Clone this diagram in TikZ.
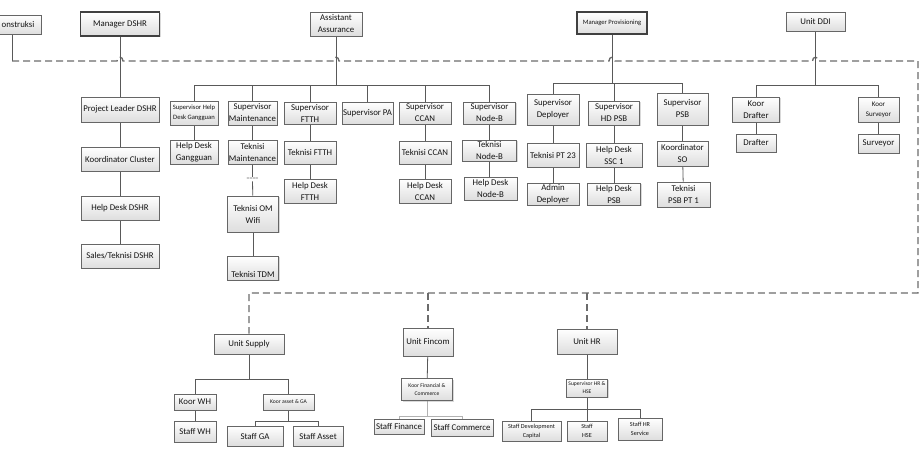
\documentclass[tikz,border=0pt]{standalone}
\usepackage{fontspec}
\setmainfont{Carlito}
\usetikzlibrary{shadows,backgrounds}
\begin{document}
\begin{tikzpicture}[x=1pt,y=-1pt,
 box/.style={draw=black!60, line width=0.7pt, top color=white, bottom color=black!13,
   inner sep=0pt, align=center, font=\fontsize{8.8}{12}\selectfont, text=black!92,
   drop shadow={shadow xshift=1pt, shadow yshift=-1pt, opacity=0.3}},
 thickbox/.style={box, line width=1.6pt, draw=black!75},
 smalltxt/.style={font=\fontsize{6.6}{9.5}\selectfont},
 tinytxt/.style={font=\fontsize{5.6}{8}\selectfont},
 hrtxt/.style={font=\fontsize{6.2}{9}\selectfont},
 conn/.style={draw=black!65, line width=0.8pt},
 faint/.style={draw=black!30, line width=0.8pt},
 dashline/.style={draw=black!58, line width=1.3pt, dash pattern=on 7pt off 4pt},
]
\useasboundingbox (0,0) rectangle (924,455);

% top row
\node[box, minimum width=46, minimum height=19] (konst) at (18,24.5) {onstruksi};
\node[thickbox, minimum width=79, minimum height=24] (mdshr) at (120,24) {Manager DSHR};
\node[box, minimum width=52, minimum height=24] (asst) at (336,24) {Assistant\\Assurance};
\node[thickbox, smalltxt, minimum width=70, minimum height=22] (mprov) at (612,23) {Manager Provisioning};
\node[box, minimum width=59, minimum height=19] (ddi) at (815.5,21.5) {Unit DDI};

% DSHR column
\node[box, minimum width=78, minimum height=25] (pl) at (120,109.5) {Project Leader DSHR};
\node[box, minimum width=78, minimum height=24] (kc) at (120,159) {Koordinator Cluster};
\node[box, minimum width=78, minimum height=24] (hd) at (120,208) {Help Desk DSHR};
\node[box, minimum width=78, minimum height=24] (sales) at (120,256) {Sales/Teknisi DSHR};

% Assurance
\node[box, smalltxt, minimum width=48, minimum height=24] (shdg) at (194,113) {Supervisor Help\\Desk Gangguan};
\node[box, minimum width=48, minimum height=24] (hdg) at (194,152) {Help Desk\\Gangguan};
\node[box, minimum width=49, minimum height=24] (smaint) at (252.5,113) {Supervisor\\Maintenance};
\node[box, minimum width=49, minimum height=24] (tmaint) at (252.5,152) {Teknisi\\Maintenance};
\node[font=\fontsize{6}{7}\selectfont, text=black!55, inner sep=1pt] (eq) at (252.5,179) {====};
\node[box, minimum width=51, minimum height=36] (tom) at (253,214) {Teknisi OM\\Wifi};
\node[box, minimum width=51, minimum height=24] (ttdm) at (253,268) {\raisebox{-6pt}[\height][0pt]{Teknisi TDM}};
\node[box, minimum width=52, minimum height=22] (sftth) at (310,113) {Supervisor\\FTTH};
\node[box, minimum width=52, minimum height=23] (tftth) at (310,152.5) {Teknisi FTTH};
\node[box, minimum width=52, minimum height=24] (hdftth) at (310,191) {Help Desk\\FTTH};
\node[box, minimum width=51, minimum height=22] (spa) at (367.5,113) {Supervisor PA};
\node[box, minimum width=52, minimum height=22] (sccan) at (425,113) {Supervisor\\CCAN};
\node[box, minimum width=52, minimum height=23] (tccan) at (425,152.5) {Teknisi CCAN};
\node[box, minimum width=52, minimum height=24] (hdccan) at (425,191) {Help Desk\\CCAN};
\node[box, minimum width=52, minimum height=22] (snodeb) at (489.5,113) {Supervisor\\Node-B};
\node[box, minimum width=54, minimum height=21] (tnodeb) at (489.5,150.5) {Teknisi\\Node-B};
\node[box, minimum width=53, minimum height=23] (hdnodeb) at (490.5,188.5) {Help Desk\\Node-B};

% Provisioning
\node[box, minimum width=52, minimum height=31] (sdep) at (553,109.5) {Supervisor\\Deployer};
\node[box, minimum width=52, minimum height=24] (tpt) at (553,155) {Teknisi PT 23};
\node[box, minimum width=52, minimum height=22] (adep) at (553,194) {Admin\\Deployer};
\node[box, minimum width=51, minimum height=24] (shdpsb) at (614,113) {Supervisor\\HD PSB};
\node[box, minimum width=56, minimum height=24] (hdssc) at (614,155) {Help Desk\\SSC 1};
\node[box, minimum width=53, minimum height=22] (hdpsb) at (614,194) {Help Desk\\PSB};
\node[box, minimum width=51, minimum height=32] (spsb) at (682.5,109) {Supervisor\\PSB};
\node[box, minimum width=51, minimum height=25] (kso) at (682.5,153.5) {Koordinator\\SO};
\node[box, minimum width=53, minimum height=25] (tpsb) at (683.5,194.5) {Teknisi\\PSB PT 1};

% DDI
\node[box, minimum width=47, minimum height=25] (kdraft) at (756,109.5) {Koor\\Drafter};
\node[box, minimum width=40, minimum height=18] (draft) at (756,143) {Drafter};
\node[box, font=\fontsize{7}{10}\selectfont, minimum width=41, minimum height=25] (ksurv) at (878.5,109.5) {Koor\\Surveyor};
\node[box, minimum width=41, minimum height=19] (surv) at (878.5,143.5) {Surveyor};

% Supply
\node[box, minimum width=70, minimum height=20] (usup) at (249,344) {Unit Supply};
\node[box, minimum width=42, minimum height=16] (koorwh) at (195,402) {Koor WH};
\node[box, tinytxt, minimum width=51, minimum height=16] (kasset) at (288.5,402) {Koor asset \& GA};
\node[box, minimum width=42, minimum height=21] (staffwh) at (195,431.5) {Staff WH};
\node[box, minimum width=56, minimum height=20] (staffga) at (255,436) {Staff GA};
\node[box, minimum width=50, minimum height=20] (staffasset) at (318,436) {Staff Asset};

% Fincom
\node[box, minimum width=50, minimum height=28] (ufin) at (428,342) {Unit Fincom};
\node[box, tinytxt, minimum width=51, minimum height=22] (kfin) at (427,389.5) {Koor Financial \&\\Commerce};
\node[box, minimum width=50, minimum height=15] (sfin) at (399,426.5) {Staff Finance};
\node[box, minimum width=62, minimum height=17] (scom) at (462,427.5) {Staff Commerce};

% HR
\node[box, minimum width=60, minimum height=25] (uhr) at (587,341.5) {Unit HR};
\node[box, tinytxt, minimum width=41, minimum height=18] (shr) at (587,388) {Supervisor HR \&\\HSE};
\node[box, hrtxt, minimum width=59, minimum height=20] (sdev) at (531.5,431) {Staff Development\\Capital};
\node[box, hrtxt, minimum width=40, minimum height=20] (shse) at (587,431) {Staff\\HSE};
\node[box, hrtxt, minimum width=44, minimum height=22] (shrs) at (640,429) {Staff HR\\Service};

\begin{scope}[on background layer]
 % dashed backbone
 \coordinate (kd) at (12,61);
 \coordinate (jr) at (918,293);
 \draw[conn] (kd |- konst.south) -- (kd);
 \draw[dashline] (kd) -- (117,61) .. controls (117,56) and (123,56) .. (123,61)
   -- (333,61) .. controls (333,56) and (339,56) .. (339,61)
   -- (609,61) .. controls (609,56) and (615,56) .. (615,61)
   -- (812.5,61) .. controls (812.5,56) and (818.5,56) .. (818.5,61)
   -- (918,61) -- (jr) -- (usup.north |- jr) -- (usup.north);
 \draw[dashline] (ufin.north |- jr) -- (ufin.north);
 \draw[dashline] (uhr.north |- jr) -- (uhr.north);

 % DSHR
 \draw[conn] (mdshr) -- (pl);
 \draw[conn] (pl) -- (kc);
 \draw[conn] (kc) -- (hd);
 \draw[conn] (hd) -- (sales);

 % Assurance
 \coordinate (ab) at (0,85);
 \draw[conn] (asst.south) -- (asst.south |- ab);
 \draw[conn] (shdg.north) -- (shdg.north |- ab) -- (snodeb.north |- ab) -- (snodeb.north);
 \foreach \n in {smaint,sftth,spa,sccan} \draw[conn] (\n.north) -- (\n.north |- ab);
 \draw[conn] (shdg) -- (hdg);
 \draw[conn] (smaint) -- (tmaint);
 \draw[conn] (tmaint) -- (eq);
 \draw[conn] (eq) -- (tom);
 \draw[conn] (tom) -- (ttdm);
 \draw[conn] (sftth) -- (tftth);
 \draw[conn] (tftth) -- (hdftth);
 \draw[conn] (sccan) -- (tccan);
 \draw[conn] (tccan) -- (hdccan);
 \draw[conn] (snodeb) -- (tnodeb);
 \draw[conn] (tnodeb.south) -- (tnodeb.south |- hdnodeb.north);

 % Provisioning
 \coordinate (pb) at (0,83);
 \draw[conn] (mprov.south) -- (mprov.south |- pb);
 \draw[conn] (sdep.north) -- (sdep.north |- pb) -- (spsb.north |- pb) -- (spsb.north);
 \draw[conn] (shdpsb.north) -- (shdpsb.north |- pb);
 \draw[conn] (sdep) -- (tpt);
 \draw[conn] (tpt) -- (adep);
 \draw[conn] (shdpsb) -- (hdssc);
 \draw[conn] (hdssc) -- (hdpsb);
 \draw[conn] (spsb) -- (kso);
 \draw[conn] (kso) -- (tpsb);

 % DDI
 \coordinate (db) at (0,85);
 \draw[conn] (ddi.south) -- (ddi.south |- db);
 \draw[conn] (kdraft.north) -- (kdraft.north |- db) -- (ksurv.north |- db) -- (ksurv.north);
 \draw[conn] (kdraft) -- (draft);
 \draw[conn] (ksurv) -- (surv);

 % Supply
 \coordinate (sb) at (0,379);
 \coordinate (gb) at (0,421);
 \draw[conn] (usup.south) -- (usup.south |- sb);
 \draw[conn] (koorwh.north) -- (koorwh.north |- sb) -- (kasset.north |- sb) -- (kasset.north);
 \draw[conn] (koorwh) -- (staffwh);
 \draw[conn] (kasset.south) -- (kasset.south |- gb);
 \draw[conn] (staffga.north) -- (staffga.north |- gb) -- (staffasset.north |- gb) -- (staffasset.north);

 % Fincom
 \coordinate (fb) at (0,416);
 \draw[conn] (ufin) -- (kfin);
 \draw[faint] (kfin.south) -- (kfin.south |- fb);
 \draw[faint] (sfin.north) -- (sfin.north |- fb) -- (scom.north |- fb) -- (scom.north);

 % HR
 \coordinate (hb) at (0,409);
 \draw[conn] (uhr) -- (shr);
 \draw[conn] (shr.south) -- (shr.south |- hb);
 \draw[conn] (sdev.north) -- (sdev.north |- hb) -- (shrs.north |- hb) -- (shrs.north);
 \draw[conn] (shse.north) -- (shse.north |- hb);
\end{scope}
\end{tikzpicture}
\end{document}
